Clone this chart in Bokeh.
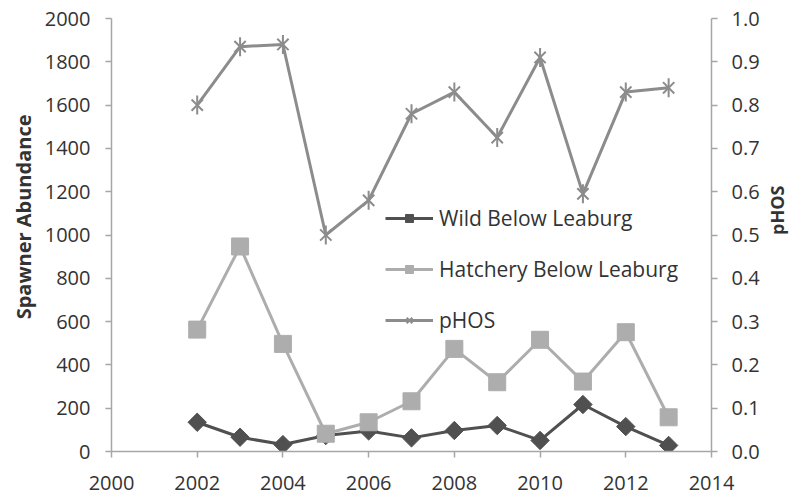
import math
from bokeh.plotting import figure
from bokeh.models import (Range1d, LinearAxis, FixedTicker, NumeralTickFormatter,
                          Legend, LegendItem, Title)
from bokeh.embed import file_html
from bokeh.resources import INLINE

years = [2002, 2003, 2004, 2005, 2006, 2007, 2008, 2009, 2010, 2011, 2012, 2013]
wild = [135, 66, 32, 74, 95, 63, 97, 120, 51, 217, 115, 28]
hatchery = [563, 947, 497, 82, 135, 232, 474, 320, 516, 323, 551, 158]
phos = [0.80, 0.935, 0.94, 0.50, 0.58, 0.78, 0.83, 0.725, 0.91, 0.595, 0.83, 0.84]

x_ticks = [2000, 2002, 2004, 2006, 2008, 2010, 2012, 2014]
left_ticks = [0, 200, 400, 600, 800, 1000, 1200, 1400, 1600, 1800, 2000]
right_ticks = [0.0, 0.1, 0.2, 0.3, 0.4, 0.5, 0.6, 0.7, 0.8, 0.9, 1.0]

FONT = "Open Sans"
TXT = "#333333"
AXC = "#a6a6a6"
C_WILD = "#505050"
C_HAT = "#adadad"
C_PHOS = "#8c8c8c"

p = figure(width=803, height=497, output_backend="svg", toolbar_location=None,
           x_range=Range1d(2000, 2014), y_range=Range1d(0, 2000),
           min_border_left=111, min_border_right=91, min_border_top=18, min_border_bottom=46)
p.extra_y_ranges = {"phos": Range1d(0, 1)}
p.outline_line_color = None
p.xgrid.visible = False
p.ygrid.visible = False
p.background_fill_color = "white"

def style_axis(ax):
    ax.axis_line_color = AXC
    ax.axis_line_width = 1.5
    ax.major_tick_line_color = AXC
    ax.major_tick_line_width = 1.5
    ax.major_tick_in = 0
    ax.major_tick_out = 6
    ax.minor_tick_line_color = None
    ax.major_label_text_font = FONT
    ax.major_label_text_font_size = "20px"
    ax.major_label_text_color = TXT

xa = p.xaxis[0]
xa.ticker = FixedTicker(ticks=x_ticks)
style_axis(xa)
xa.major_label_standoff = 18

ya = p.yaxis[0]
ya.ticker = FixedTicker(ticks=left_ticks)
style_axis(ya)
ya.major_label_standoff = 15

ra = LinearAxis(y_range_name="phos", ticker=FixedTicker(ticks=right_ticks),
                formatter=NumeralTickFormatter(format="0.0"))
style_axis(ra)
ra.major_label_standoff = 14
ra.axis_label = "pHOS"
ra.axis_label_orientation = math.pi / 2
ra.axis_label_text_font = FONT
ra.axis_label_text_font_style = "bold"
ra.axis_label_text_font_size = "18px"
ra.axis_label_text_color = TXT
ra.axis_label_standoff = 14
p.add_layout(ra, "right")

# series
lw = p.line(years, wild, line_color=C_WILD, line_width=3)
sw = p.scatter(years, wild, marker="square", angle=math.pi / 4, size=13,
               fill_color=C_WILD, line_color=C_WILD)
lh = p.line(years, hatchery, line_color=C_HAT, line_width=3)
sh = p.scatter(years, hatchery, marker="square", size=17, fill_color=C_HAT, line_color=C_HAT)
lp = p.line(years, phos, line_color=C_PHOS, line_width=3, y_range_name="phos")
sp1 = p.scatter(years, phos, marker="x", size=16, line_color=C_PHOS, line_width=2,
                y_range_name="phos")
sp2 = p.scatter(years, phos, marker="dash", angle=math.pi / 2, size=19, line_color=C_PHOS,
                line_width=2, y_range_name="phos")

legend = Legend(items=[
    LegendItem(label="Wild Below Leaburg", renderers=[lw, sw]),
    LegendItem(label="Hatchery Below Leaburg", renderers=[lh, sh]),
    LegendItem(label="pHOS", renderers=[lp, sp1, sp2]),
], location=(274, 117))
legend.border_line_color = None
legend.background_fill_alpha = 0
legend.padding = 0
legend.margin = 0
legend.spacing = 23
legend.glyph_height = 20
legend.glyph_width = 48
legend.label_height = 20
legend.label_standoff = 6
legend.label_text_font = FONT
legend.label_text_font_size = "21px"
legend.label_text_color = TXT
legend.label_text_baseline = "middle"
p.add_layout(legend, "center")

p.add_layout(Title(text="Spawner Abundance", align="right", offset=96,
                   text_font=FONT, text_font_style="bold", text_font_size="20px",
                   text_color=TXT), "left")

open("out.html", "w").write(file_html(p, INLINE))
